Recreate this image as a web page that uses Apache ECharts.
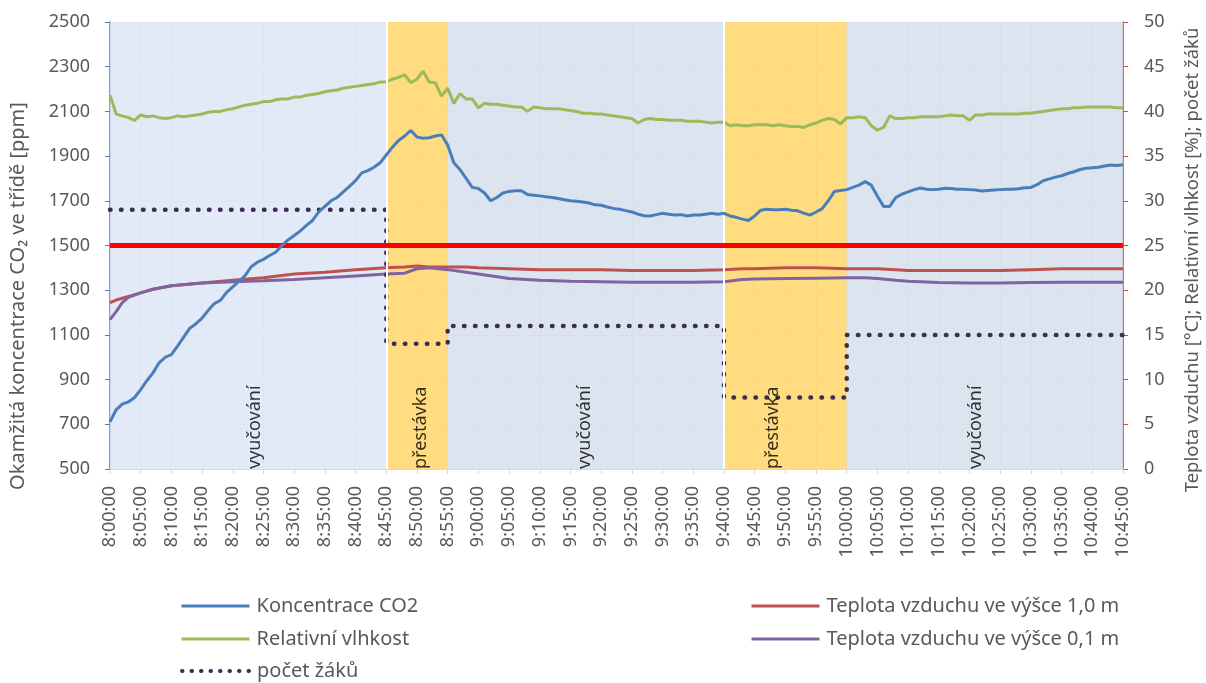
<!DOCTYPE html>
<html>
<head>
<meta charset="utf-8">
<script src="https://cdn.jsdelivr.net/npm/echarts@6.0.0/dist/echarts.min.js"></script>
<style>
  html, body { margin: 0; padding: 0; background: #ffffff; }
  #chart { width: 1206px; height: 683px; }
</style>
</head>
<body>
<div id="chart"></div>
<script>
// Minutes after 8:00:00 for the per-minute readings (8:00 … 10:45)
const minuteCount = 166;

// CO2 concentration [ppm], one reading per minute
const co2 = [
  711, 765, 790, 800, 820, 855, 895, 930, 975, 1000,
  1012, 1050, 1090, 1130, 1150, 1175, 1210, 1240, 1255, 1290,
  1315, 1340, 1365, 1405, 1425, 1438, 1455, 1470, 1500, 1525,
  1545, 1565, 1590, 1612, 1650, 1675, 1700, 1715, 1740, 1765,
  1790, 1825, 1835, 1850, 1870, 1905, 1940, 1970, 1990, 2015,
  1985, 1980, 1982, 1990, 1995, 1950, 1870, 1840, 1800, 1760,
  1755, 1735, 1700, 1715, 1735, 1742, 1745, 1745, 1728, 1725,
  1722, 1718, 1715, 1710, 1705, 1700, 1698, 1695, 1690, 1682,
  1680, 1672, 1666, 1662, 1656, 1650, 1640, 1633, 1632, 1638,
  1644, 1640, 1636, 1638, 1632, 1636, 1636, 1640, 1644, 1640,
  1644, 1632, 1626, 1618, 1612, 1632, 1658, 1662, 1660, 1660,
  1662, 1658, 1655, 1645, 1636, 1650, 1665, 1700, 1742, 1746,
  1750, 1760, 1770, 1786, 1770, 1720, 1675, 1675, 1715, 1730,
  1740, 1750, 1757, 1752, 1750, 1752, 1756, 1755, 1752, 1752,
  1750, 1748, 1744, 1746, 1748, 1750, 1752, 1752, 1754, 1758,
  1760, 1772, 1790, 1798, 1806, 1812, 1822, 1830, 1840, 1846,
  1848, 1850, 1856, 1860, 1858, 1861
];

// Relative humidity [%], one reading per minute
const humidity = [
  41.8, 39.7, 39.5, 39.3, 39.0, 39.6, 39.4, 39.5, 39.3, 39.2,
  39.3, 39.5, 39.4, 39.5, 39.6, 39.7, 39.9, 40.0, 40.0, 40.2,
  40.3, 40.5, 40.7, 40.8, 40.9, 41.1, 41.1, 41.3, 41.4, 41.4,
  41.6, 41.6, 41.8, 41.9, 42.0, 42.2, 42.3, 42.4, 42.6, 42.7,
  42.8, 42.9, 43.0, 43.1, 43.3, 43.3, 43.6, 43.8, 44.1, 43.2,
  43.6, 44.5, 43.3, 43.2, 41.7, 42.6, 40.9, 42.0, 41.4, 41.4,
  40.4, 40.9, 40.8, 40.8, 40.7, 40.6, 40.5, 40.5, 40.0, 40.5,
  40.4, 40.3, 40.3, 40.3, 40.2, 40.1, 40.0, 39.8, 39.8, 39.7,
  39.7, 39.6, 39.5, 39.4, 39.3, 39.2, 38.7, 39.1, 39.2, 39.1,
  39.1, 39.0, 39.0, 39.0, 38.9, 38.9, 38.9, 38.8, 38.7, 38.8,
  38.8, 38.4, 38.5, 38.4, 38.4, 38.5, 38.5, 38.5, 38.4, 38.5,
  38.4, 38.3, 38.3, 38.2, 38.5, 38.7, 39.0, 39.2, 39.1, 38.6,
  39.3, 39.3, 39.4, 39.3, 38.4, 37.9, 38.2, 39.5, 39.2, 39.2,
  39.3, 39.3, 39.4, 39.4, 39.4, 39.4, 39.5, 39.6, 39.5, 39.5,
  39.0, 39.6, 39.6, 39.7, 39.7, 39.7, 39.7, 39.7, 39.7, 39.8,
  39.8, 39.9, 40.0, 40.1, 40.2, 40.3, 40.3, 40.4, 40.4, 40.5,
  40.5, 40.5, 40.5, 40.5, 40.4, 40.4
];

// Air temperature readings [°C] (minutes after 8:00)
const tempMinutes = [
  0, 1, 2, 3, 5, 7, 10, 15, 20, 25, 30, 35, 40, 45, 48, 50, 52, 55, 58, 60,
  65, 70, 75, 80, 85, 90, 95, 100, 103, 105, 110, 115, 120, 123, 125, 128, 130,
  135, 140, 145, 150, 155, 160, 165
];
const temp10 = [
  18.6, 18.9, 19.1, 19.3, 19.7, 20.1, 20.5, 20.8, 21.1, 21.4, 21.8, 22.0, 22.3,
  22.5, 22.6, 22.7, 22.6, 22.6, 22.6, 22.5, 22.4, 22.3, 22.3, 22.3, 22.2, 22.2,
  22.2, 22.3, 22.4, 22.4, 22.5, 22.5, 22.4, 22.4, 22.4, 22.3, 22.2, 22.2, 22.2,
  22.2, 22.3, 22.4, 22.4, 22.4
];
const temp01 = [
  16.7, 17.6, 18.6, 19.2, 19.7, 20.1, 20.5, 20.8, 20.95, 21.05, 21.2, 21.4, 21.6,
  21.8, 21.9, 22.4, 22.5, 22.3, 22.0, 21.8, 21.3, 21.1, 21.0, 20.95, 20.9, 20.9,
  20.9, 20.95, 21.2, 21.25, 21.3, 21.35, 21.4, 21.4, 21.3, 21.1, 21.0, 20.85,
  20.8, 20.8, 20.85, 20.9, 20.9, 20.9
];

// Number of pupils present (value holds until the next change)
const pupilMinutes = [0, 45, 55, 100, 120, 165];
const pupilCounts = [29, 14, 16, 8, 15, 15];

// Lesson / break periods
const periodStart = [0, 45, 55, 100, 120];
const periodEnd = [45, 55, 100, 120, 165];
const periodName = ['vyučování', 'přestávka', 'vyučování', 'přestávka', 'vyučování'];
const periodLabelAt = [24, 51, 77.7, 108.3, 141.4];

// CO2 limit [ppm]
const co2Limit = 1500;

// Axis ranges
const timeMin = 0, timeMax = 165, timeStep = 5;
const ppmMin = 500, ppmMax = 2500, ppmStep = 200;
const rightMin = 0, rightMax = 50, rightStep = 5;

// Series names
const NAME_CO2 = 'Koncentrace CO2';
const NAME_RH = 'Relativní vlhkost';
const NAME_PUPILS = 'počet žáků';
const NAME_T10 = 'Teplota vzduchu ve výšce 1,0 m';
const NAME_T01 = 'Teplota vzduchu ve výšce 0,1 m';

function timeLabel(m) {
  const h = 8 + Math.floor(m / 60);
  const mm = m % 60;
  return h + ':' + String(mm).padStart(2, '0') + ':00';
}

const minutes = [];
for (let i = 0; i < minuteCount; i++) minutes.push(i);
const zip = (xs, ys) => xs.map((x, i) => [x, ys[i]]);

const FONT = 'Noto Sans';
const GREY = '#595959';
const C_CO2 = '#4A7EBB', C_RH = '#9BBB59', C_T10 = '#C0504D', C_T01 = '#8064A2', C_PUP = '#3D2C55';

const areaColour = (i) => periodName[i] === 'přestávka' ? '#FFD66A' : (i === 0 ? '#DCE6F4' : '#D6DFED');

// legend: one entry per slot, two columns
const legendSlots = [
  { name: NAME_CO2, left: 180, cy: 606, line: { color: C_CO2, width: 3 } },
  { name: NAME_RH, left: 180, cy: 639, line: { color: C_RH, width: 3 } },
  { name: NAME_PUPILS, left: 180, cy: 671, line: { color: C_PUP, width: 4, type: [0.5, 9], cap: 'round' } },
  { name: NAME_T10, left: 750, cy: 606, line: { color: C_T10, width: 3 } },
  { name: NAME_T01, left: 750, cy: 639, line: { color: C_T01, width: 3 } }
];

const chart = echarts.init(document.getElementById('chart'), null, { renderer: 'canvas' });

chart.setOption({
  animation: false,
  backgroundColor: '#ffffff',
  textStyle: { fontFamily: FONT },
  grid: { left: 110, right: 83, top: 22, bottom: 214, containLabel: false },
  xAxis: {
    type: 'value',
    min: timeMin, max: timeMax, interval: timeStep,
    axisLine: { show: true, onZero: false, lineStyle: { color: '#D9D9D9', width: 1 } },
    axisTick: { show: true, length: 5, lineStyle: { color: '#D9D9D9' } },
    splitLine: { show: true, lineStyle: { color: '#D9D9D9', width: 1 } },
    axisLabel: {
      rotate: 90, margin: 17, color: GREY, fontSize: 18, fontFamily: FONT,
      formatter: timeLabel
    }
  },
  yAxis: [
    {
      type: 'value', position: 'left',
      min: ppmMin, max: ppmMax, interval: ppmStep,
      axisLine: { show: true, lineStyle: { color: '#4F81BD', width: 1.5 } },
      axisTick: { show: true, length: 5, lineStyle: { color: '#4F81BD' } },
      splitLine: { show: true, lineStyle: { color: '#D9D9D9', width: 1 } },
      axisLabel: { margin: 20, color: GREY, fontSize: 18, fontFamily: FONT, formatter: v => String(v) }
    },
    {
      type: 'value', position: 'right',
      min: rightMin, max: rightMax, interval: rightStep,
      axisLine: { show: true, lineStyle: { color: '#C0504D', width: 1.5 } },
      axisTick: { show: true, length: 5, lineStyle: { color: '#C0504D' } },
      splitLine: { show: false },
      axisLabel: { margin: 21, color: GREY, fontSize: 18, fontFamily: FONT, formatter: v => String(v) }
    }
  ],
  legend: legendSlots.map(s => ({
    data: [{ name: s.name, lineStyle: s.line, itemStyle: { opacity: 0, color: 'rgba(0,0,0,0)', borderWidth: 0 } }],
    orient: 'horizontal', left: s.left, top: s.cy - 11, padding: 0,
    itemWidth: 68, itemHeight: 14, itemGap: 0,
    selectedMode: false,
    textStyle: { color: GREY, fontSize: 20, lineHeight: 22, fontFamily: FONT, padding: [0, 0, 0, 2] }
  })),
  graphic: [
    {
      type: 'text', x: 18, y: 296, rotation: Math.PI / 2,
      style: {
        text: 'Okamžitá koncentrace CO₂ ve třídě [ppm]',
        fill: GREY, font: '20px "Noto Sans"', align: 'center', verticalAlign: 'middle'
      }
    },
    {
      type: 'text', x: 1193, y: 260, rotation: Math.PI / 2,
      style: {
        text: 'Teplota vzduchu [°C]; Relativní vlhkost [%]; počet žáků',
        fill: GREY, font: '18.5px "Noto Sans"', align: 'center', verticalAlign: 'middle'
      }
    }
  ],
  series: [
    {
      // period backgrounds, break separators and the CO2 limit
      type: 'line', name: 'periods', xAxisIndex: 0, yAxisIndex: 0, z: 1,
      data: [], silent: true,
      markArea: {
        silent: true,
        data: periodStart.map((s, i) => [
          { xAxis: s, itemStyle: { color: areaColour(i), opacity: 0.85 } },
          { xAxis: periodEnd[i] }
        ])
      },
      markLine: {
        silent: true, symbol: 'none', animation: false,
        label: { show: false },
        data: [
          ...periodStart.filter((s, i) => periodName[i] === 'přestávka')
            .map(s => ({ xAxis: s, lineStyle: { color: '#FFFFFF', width: 2, type: 'solid' } })),
          { yAxis: co2Limit, lineStyle: { color: '#FF0000', width: 5, type: 'solid' } }
        ]
      }
    },
    {
      type: 'line', name: NAME_RH, yAxisIndex: 1, z: 3,
      data: zip(minutes, humidity), symbol: 'none',
      lineStyle: { color: C_RH, width: 3 }, itemStyle: { color: C_RH }
    },
    {
      type: 'line', name: NAME_T10, yAxisIndex: 1, z: 3,
      data: zip(tempMinutes, temp10), symbol: 'none',
      lineStyle: { color: C_T10, width: 3 }, itemStyle: { color: C_T10 }
    },
    {
      type: 'line', name: NAME_T01, yAxisIndex: 1, z: 3,
      data: zip(tempMinutes, temp01), symbol: 'none',
      lineStyle: { color: C_T01, width: 3 }, itemStyle: { color: C_T01 }
    },
    {
      type: 'line', name: NAME_PUPILS, yAxisIndex: 1, z: 4,
      data: zip(pupilMinutes, pupilCounts), symbol: 'none', step: 'end',
      lineStyle: { color: C_PUP, width: 4.5, type: [0.5, 10.5], cap: 'round' },
      itemStyle: { color: C_PUP }
    },
    {
      type: 'line', name: NAME_CO2, yAxisIndex: 0, z: 5,
      data: zip(minutes, co2), symbol: 'none',
      lineStyle: { color: C_CO2, width: 3 }, itemStyle: { color: C_CO2 }
    },
    {
      // period captions along the bottom of the plot
      type: 'scatter', name: 'captions', yAxisIndex: 0, z: 6, silent: true,
      symbolSize: 0,
      data: periodLabelAt.map((m, i) => [m, ppmMin, periodName[i]]),
      label: {
        show: true, position: [0, 0], rotate: 90,
        align: 'left', verticalAlign: 'middle', offset: [0, -2],
        color: '#000000', fontSize: 18, fontFamily: FONT,
        formatter: p => p.data[2]
      }
    }
  ]
});
</script>
</body>
</html>
